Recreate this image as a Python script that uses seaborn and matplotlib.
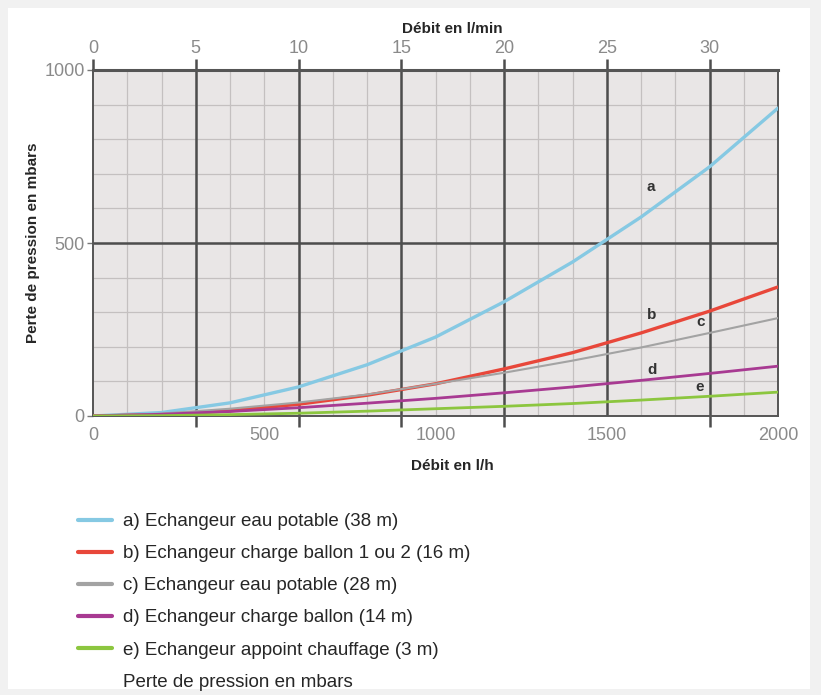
"""Pressure loss curves of the heat exchangers"""

import pandas as pd
import seaborn as sns
import matplotlib.pyplot as plt
from matplotlib.lines import Line2D
from matplotlib.patches import Rectangle
from matplotlib.ticker import MultipleLocator

sns.set_theme(style="white")
plt.rcParams["font.family"] = ["Liberation Sans", "DejaVu Sans"]

# flow in l/h
debit = [0, 200, 400, 600, 800, 1000, 1200, 1400, 1600, 1800, 2000]

# pressure loss in mbar
perte_a = [0, 10, 38, 84, 148, 228, 330, 445, 575, 720, 890]
perte_b = [0, 4, 15, 34, 60, 93, 136, 183, 240, 303, 373]
perte_c = [0, 7, 21, 39, 62, 93, 125, 160, 198, 240, 283]
perte_d = [0, 5, 13, 24, 37, 51, 67, 84, 103, 123, 144]
perte_e = [0, 1, 4, 8, 14, 21, 28, 36, 46, 57, 69]

courbes = ["a", "b", "c", "d", "e"]
legendes = [
    "a) Echangeur eau potable (38 m)",
    "b) Echangeur charge ballon 1 ou 2 (16 m)",
    "c) Echangeur eau potable (28 m)",
    "d) Echangeur charge ballon (14 m)",
    "e) Echangeur appoint chauffage (3 m)",
]
couleurs = ["#86c9e3", "#e8473a", "#a3a3a3", "#a83a92", "#8cc63f"]
epaisseurs = [2.4, 2.4, 1.5, 2.0, 2.0]

# label positions for the letters on the curves (l/h, mbar)
label_x = [1629, 1632, 1775, 1632, 1772]
label_y = [662, 292, 272, 133, 84]

top_ticks = [0, 5, 10, 15, 20, 25, 30]

frames = []
for nom, vals in zip(courbes, [perte_a, perte_b, perte_c, perte_d, perte_e]):
    frames.append(pd.DataFrame({"debit": debit, "perte": vals, "courbe": nom}))
data = pd.concat(frames, ignore_index=True)

fig = plt.figure(figsize=(8.21, 6.95), dpi=100)
fig.patch.set_facecolor("#f1f1f1")
fig.patches.append(
    Rectangle((8 / 821, 6 / 695), 802 / 821, 681 / 695, transform=fig.transFigure,
              facecolor="white", edgecolor="none", zorder=-5)
)

ax = fig.add_axes([93 / 821, 1 - 416 / 695, 685 / 821, 346 / 695])
ax.set_facecolor("#e9e6e6")

# grid: thin every 100, thick every 5 l/min and 500 mbar
for v in range(100, 2000, 100):
    ax.axvline(v, color="#c4c0c0", lw=0.9, zorder=1)
for v in range(100, 1000, 100):
    ax.axhline(v, color="#c4c0c0", lw=0.9, zorder=1)
for v in range(300, 2000, 300):
    ax.axvline(v, color="#4d4d4d", lw=1.8, zorder=2)
ax.axhline(500, color="#4d4d4d", lw=1.8, zorder=2)

for nom, c, lw in zip(courbes, couleurs, epaisseurs):
    sub = data[data["courbe"] == nom]
    sns.lineplot(x="debit", y="perte", data=sub, color=c, lw=lw, ax=ax, zorder=3)

for nom, lx, ly in zip(courbes, label_x, label_y):
    ax.text(lx, ly, nom, fontsize=11, fontweight="bold", color="#333333",
            ha="center", va="center", zorder=4)

ax.set_xlim(0, 2000)
ax.set_ylim(0, 1000)
ax.set_xticks([0, 500, 1000, 1500, 2000])
ax.set_yticks([0, 500, 1000])
ax.xaxis.set_minor_locator(MultipleLocator(300))
ax.tick_params(axis="x", which="major", length=0, pad=8, labelsize=13, labelcolor="#8a8a8a")
ax.tick_params(axis="x", which="minor", bottom=True, length=8, width=1.8, color="#4d4d4d")
ax.tick_params(axis="y", left=True, length=4, width=1, color="#777777",
               labelsize=13, labelcolor="#8a8a8a", pad=2)
ax.set_xlabel("")
ax.set_ylabel("")

for s in ["left", "bottom", "right"]:
    ax.spines[s].set_color("#555555")
    ax.spines[s].set_linewidth(1.4)
ax.spines["top"].set_color("#555555")
ax.spines["top"].set_linewidth(2.2)

top = ax.secondary_xaxis("top", functions=(lambda x: x / 60, lambda x: x * 60))
top.set_xticks(top_ticks)
top.tick_params(length=8, width=1.8, color="#4d4d4d", labelsize=13,
                labelcolor="#8a8a8a", pad=1)
top.spines["top"].set_visible(False)

fig.text(452 / 821, 1 - 29 / 695, "Débit en l/min", ha="center", va="center",
         fontsize=11, fontweight="bold")
fig.text(452 / 821, 1 - 466 / 695, "Débit en l/h", ha="center", va="center",
         fontsize=11, fontweight="bold")
fig.text(33 / 821, 1 - 243 / 695, "Perte de pression en mbars", ha="center", va="center",
         rotation=90, fontsize=11, fontweight="bold")

handles = [Line2D([], [], color=c, lw=3) for c in couleurs]
handles.append(Line2D([], [], color="none"))
labels = legendes + ["Perte de pression en mbars"]
fig.legend(handles, labels, loc="upper left", bbox_to_anchor=(78 / 821, 1 - 513 / 695),
           frameon=False, fontsize=13.5, handlelength=1.8, handletextpad=0.6,
           labelspacing=0.8, borderaxespad=0, borderpad=0)

fig.savefig("out.png", dpi=100)
